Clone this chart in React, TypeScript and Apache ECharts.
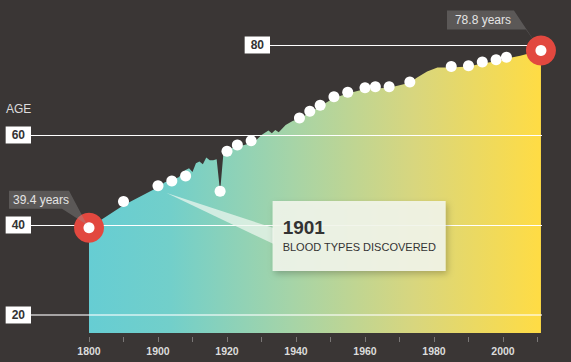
import React, { useEffect, useRef } from 'react';
import * as echarts from 'echarts';

// ---------- data ----------
const areaYears = [
  1800, 1850, 1900, 1902, 1904, 1906, 1908, 1909, 1910, 1911, 1912, 1913, 1914, 1915, 1916, 1917,
  1918, 1919, 1921, 1925, 1928, 1930, 1932, 1933, 1934, 1935, 1937, 1939, 1941, 1944, 1947, 1951,
  1955, 1960, 1967, 1973, 1975, 1978, 1981, 1985, 1990, 1994, 1998, 2001, 2005, 2008, 2011,
];
const areaValues = [
  39.4, 44.4, 48.4, 49.5, 50.0, 50.6, 52.2, 52.6, 51.8, 53.7, 54.1, 53.5, 55.0, 54.4, 54.4, 54.6,
  47.4, 56.3, 57.0, 57.8, 58.5, 60.0, 61.0, 60.4, 61.1, 60.6, 62.2, 63.1, 63.6, 65.0, 66.4, 68.2,
  69.2, 70.2, 70.5, 71.6, 72.7, 74.1, 75.0, 75.0, 75.2, 75.9, 76.4, 77.0, 77.6, 78.2, 78.8,
];
const dotYears = [
  1850, 1900, 1904, 1908, 1918, 1920, 1923, 1927, 1941, 1944, 1947, 1951, 1955, 1960, 1963, 1967,
  1973, 1985, 1990, 1994, 1998, 2001,
];
const dotValues = [
  45.2, 48.7, 49.8, 50.9, 47.5, 56.4, 57.8, 58.7, 63.8, 65.3, 66.6, 68.5, 69.5, 70.5, 70.7, 70.7,
  71.8, 75.2, 75.4, 76.2, 76.7, 77.3,
];
const highlightYears = [1800, 2011];
const highlightValues = [39.4, 78.8];
const highlightLabels = ['39.4 years', '78.8 years'];
const xTickYears = [1800, 1850, 1900, 1910, 1920, 1930, 1940, 1950, 1960, 1970, 1980, 1990, 2000, 2010];
const xLabelYears = [1800, 1900, 1920, 1940, 1960, 1980, 2000];
const yTicks = [20, 40, 60, 80];
const axisTitle = 'AGE';
const eventTitle = '1901';
const eventText = 'BLOOD TYPES DISCOVERED';

// ---------- scale helpers (broken time axis: 1800-1900 compressed) ----------
const pos = (year: number) => (year <= 1900 ? (year - 1800) / 50 : 2 + (year - 1900) / 10);
const yearOf = (p: number) => Math.round(p <= 2 ? 1800 + 50 * p : 1900 + 10 * (p - 2));

// ---------- layout ----------
const X_MIN = -58 / 34.5;
const X_MAX = 453 / 34.5;
const LINE80_START = 181 / 34.5;
const EVENT_TIP: [number, number] = [1902.5, 47.1];
const BG = '#3a3635';
const FONT = '"Liberation Sans", Arial, Helvetica, sans-serif';

export default function App() {
  const ref = useRef<HTMLDivElement>(null);

  useEffect(() => {
    document.body.style.margin = '0';
    const chart = echarts.init(ref.current!, undefined, { renderer: 'svg' });

    const option: any = {
      animation: false,
      backgroundColor: BG,
      grid: { left: 31, right: 29, top: 0, bottom: 29 },
      xAxis: {
        type: 'value',
        min: X_MIN,
        max: X_MAX,
        offset: 4,
        axisLine: { show: false },
        splitLine: { show: false },
        axisTick: {
          show: true,
          length: 5,
          customValues: xTickYears.map(pos),
          lineStyle: { color: '#7a7776', width: 1 },
        },
        axisLabel: {
          show: true,
          customValues: xLabelYears.map(pos),
          formatter: (v: number) => String(yearOf(v)),
          color: '#dcdcdc',
          fontWeight: 'bold',
          fontSize: 10.5,
          fontFamily: FONT,
          margin: 8,
        },
      },
      yAxis: {
        type: 'value',
        min: 16,
        max: 90,
        show: false,
        splitLine: { show: false },
      },
      series: [
        {
          type: 'line',
          data: areaYears.map((y, i) => [pos(y), areaValues[i]]),
          showSymbol: false,
          symbol: 'none',
          lineStyle: { width: 0 },
          areaStyle: {
            origin: 'start',
            opacity: 1,
            color: new echarts.graphic.LinearGradient(0, 0, 1, 0, [
              { offset: 0, color: '#66cdd3' },
              { offset: 0.18, color: '#72cfca' },
              { offset: 0.45, color: '#a6d4a7' },
              { offset: 0.72, color: '#d8d67e' },
              { offset: 1, color: '#ffdc44' },
            ]),
          },
          z: 2,
          markLine: {
            silent: true,
            symbol: 'none',
            animation: false,
            label: {
              show: true,
              position: 'start',
              formatter: '{b}',
              distance: 0,
              backgroundColor: '#ffffff',
              color: '#333333',
              fontWeight: 'bold',
              fontSize: 12,
              fontFamily: FONT,
              lineHeight: 13,
              padding: [2, 6, 2, 6],
            },
            data: yTicks.map((v) => [
              {
                name: String(v),
                coord: [v === 80 ? LINE80_START : X_MIN, v],
                lineStyle:
                  v === 20
                    ? { color: 'rgba(255,255,255,0.55)', width: 2, type: 'solid' }
                    : { color: '#ffffff', width: 1, type: 'solid' },
              },
              { coord: [X_MAX, v] },
            ]),
          },
        },
        {
          type: 'scatter',
          data: dotYears.map((y, i) => [pos(y), dotValues[i]]),
          symbolSize: 11,
          itemStyle: { color: '#ffffff', opacity: 1 },
          clip: false,
          z: 4,
          silent: true,
        },
        {
          type: 'scatter',
          data: highlightYears.map((y, i) => [pos(y), highlightValues[i]]),
          symbolSize: 30,
          itemStyle: { color: '#e2483f', opacity: 1 },
          clip: false,
          z: 5,
          silent: true,
        },
        {
          type: 'scatter',
          data: highlightYears.map((y, i) => [pos(y), highlightValues[i]]),
          symbolSize: 11,
          itemStyle: { color: '#ffffff', opacity: 1 },
          clip: false,
          z: 6,
          silent: true,
        },
      ],
    };
    chart.setOption(option);

    const px = (year: number, v: number) =>
      chart.convertToPixel({ xAxisIndex: 0, yAxisIndex: 0 }, [pos(year), v]) as number[];
    const s = px(highlightYears[0], highlightValues[0]);
    const e = px(highlightYears[1], highlightValues[1]);
    const t = px(EVENT_TIP[0], EVENT_TIP[1]);

    const calloutFill = 'rgba(150,150,150,0.36)';
    const graphic: any[] = [
      {
        type: 'text',
        left: 6,
        top: 103,
        z: 10,
        style: { text: axisTitle, fill: '#dddddd', fontSize: 12, fontFamily: FONT },
      },
      // start callout
      {
        type: 'polygon',
        z: 10,
        shape: {
          points: [
            [s[0] - 80, s[1] - 37],
            [s[0] - 20, s[1] - 37],
            [s[0] - 2, s[1] - 3],
            [s[0] - 27, s[1] - 19],
            [s[0] - 80, s[1] - 19],
          ],
        },
        style: { fill: calloutFill },
      },
      {
        type: 'text',
        z: 11,
        x: s[0] - 76,
        y: s[1] - 28,
        style: {
          text: highlightLabels[0],
          fill: '#e4e4e4',
          fontSize: 12,
          fontFamily: FONT,
          verticalAlign: 'middle',
        },
      },
      // end callout
      {
        type: 'polygon',
        z: 10,
        shape: {
          points: [
            [e[0] - 94, e[1] - 40],
            [e[0] - 27, e[1] - 40],
            [e[0] - 3, e[1] - 4],
            [e[0] - 15, e[1] - 21],
            [e[0] - 94, e[1] - 21],
          ],
        },
        style: { fill: calloutFill },
      },
      {
        type: 'text',
        z: 11,
        x: e[0] - 86,
        y: e[1] - 30,
        style: {
          text: highlightLabels[1],
          fill: '#e4e4e4',
          fontSize: 12,
          fontFamily: FONT,
          verticalAlign: 'middle',
        },
      },
      // event callout
      {
        type: 'polygon',
        z: 9,
        shape: {
          points: [
            [t[0], t[1]],
            [t[0] + 107, t[1] + 35],
            [t[0] + 107, t[1] + 51],
          ],
        },
        style: { fill: 'rgba(240,247,240,0.72)' },
      },
      {
        type: 'rect',
        z: 9,
        shape: { x: t[0] + 106, y: t[1] + 8, width: 173, height: 70 },
        style: {
          fill: 'rgba(244,247,238,0.88)',
          shadowBlur: 6,
          shadowOffsetX: 2,
          shadowOffsetY: 3,
          shadowColor: 'rgba(0,0,0,0.25)',
        },
      },
      {
        type: 'text',
        z: 11,
        x: t[0] + 116,
        y: t[1] + 34,
        style: {
          text: eventTitle,
          fill: '#333333',
          fontSize: 19,
          fontWeight: 'bold',
          fontFamily: FONT,
          verticalAlign: 'middle',
        },
      },
      {
        type: 'text',
        z: 11,
        x: t[0] + 116,
        y: t[1] + 54,
        style: {
          text: eventText,
          fill: '#333333',
          fontSize: 11,
          fontFamily: FONT,
          verticalAlign: 'middle',
        },
      },
    ];
    chart.setOption({ graphic });

    return () => chart.dispose();
  }, []);

  return <div ref={ref} style={{ position: 'absolute', left: 0, top: 0, width: 571, height: 362 }} />;
}
